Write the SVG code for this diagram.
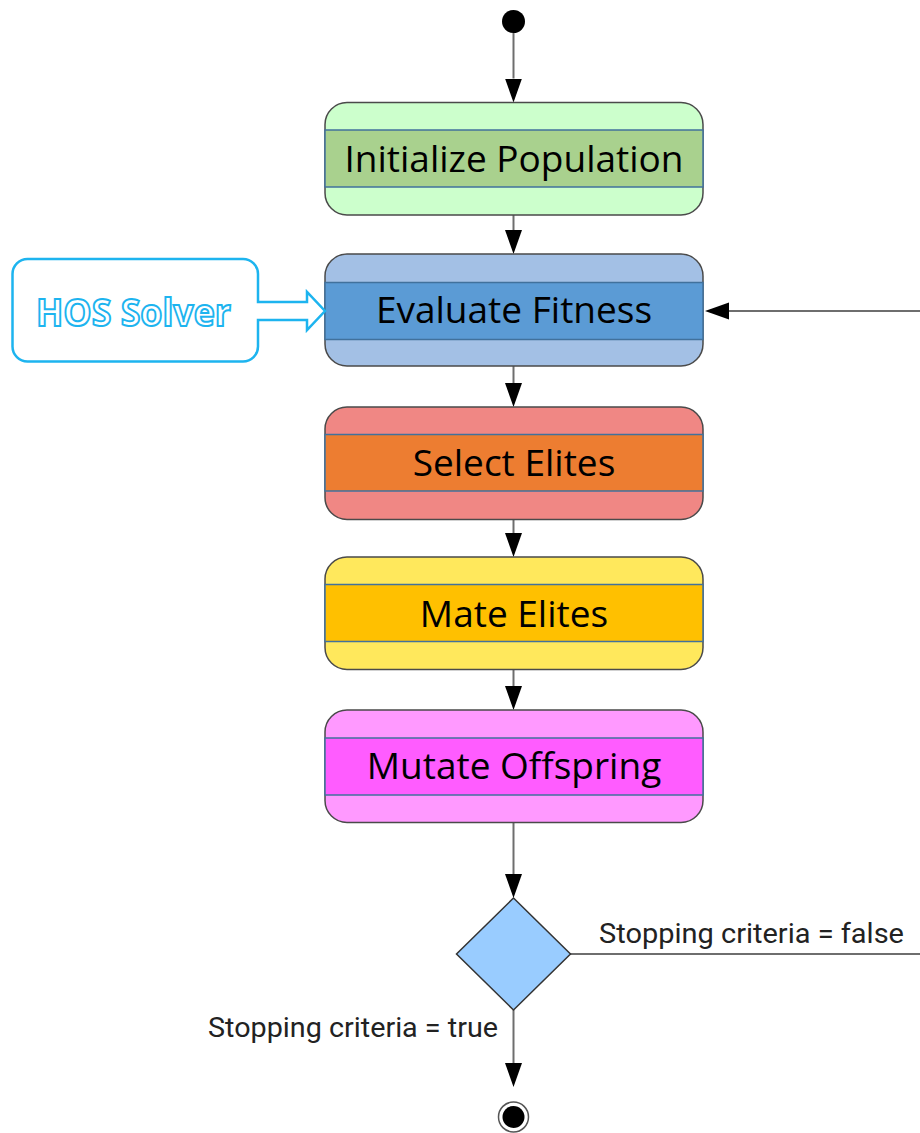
<svg xmlns="http://www.w3.org/2000/svg" width="920" height="1133" viewBox="0 0 920 1133">
<defs>
<style>
.outer{stroke:#4a4a4a;stroke-width:1.5}
.band{stroke:#41719c;stroke-width:1.5}
.lbl{font-family:"Open Sans","DejaVu Sans",sans-serif;font-size:37px;fill:#000;text-anchor:middle}
.edge{fill:none;stroke:#6e6e6e;stroke-width:2}
.cond{font-family:Roboto,"Liberation Sans",sans-serif;font-size:27px;fill:#222}
</style>
<marker id="ah" markerUnits="userSpaceOnUse" markerWidth="25" markerHeight="18" refX="0" refY="8.5" orient="auto">
<path d="M0,0 L24,8.5 L0,17 Z" fill="#000"/>
</marker>
</defs>
<rect width="920" height="1133" fill="#fff"/>
<g id="connectors">
<path class="edge" d="M513.5,33 V78.5" marker-end="url(#ah)"/>
<path class="edge" d="M513.5,215 V230" marker-end="url(#ah)"/>
<path class="edge" d="M513.5,366 V383" marker-end="url(#ah)"/>
<path class="edge" d="M513.5,519.5 V533" marker-end="url(#ah)"/>
<path class="edge" d="M513.5,669.5 V686" marker-end="url(#ah)"/>
<path class="edge" d="M513.5,822.5 V874" marker-end="url(#ah)"/>
<path class="edge" d="M513.5,1010 V1063" marker-end="url(#ah)"/>
<path class="edge" d="M570,954 H940 V311 H729" marker-end="url(#ah)"/>
<text class="cond" x="599" y="943" textLength="305" lengthAdjust="spacingAndGlyphs">Stopping criteria = false</text>
<text class="cond" x="208" y="1037" textLength="290" lengthAdjust="spacingAndGlyphs">Stopping criteria = true</text>
</g>
<g id="start"><circle cx="513.5" cy="21.5" r="11.5" fill="#000"/></g>
<g id="init">
<rect class="outer" x="325" y="102.5" width="378" height="112.5" rx="22" ry="22" fill="#ccffcc"/>
<rect class="band" x="325" y="130" width="378" height="57" fill="#a9d18e"/>
<text class="lbl" x="514" y="171.5">Initialize Population</text>
</g>
<g id="evaluate">
<rect class="outer" x="325" y="254" width="378" height="112" rx="22" ry="22" fill="#a3c0e5"/>
<rect class="band" x="325" y="282.5" width="378" height="57" fill="#5b9bd5"/>
<text class="lbl" x="514" y="323">Evaluate Fitness</text>
</g>
<g id="select">
<rect class="outer" x="325" y="407" width="378" height="112.5" rx="22" ry="22" fill="#f08784"/>
<rect class="band" x="325" y="434.5" width="378" height="56.5" fill="#ed7d31"/>
<text class="lbl" x="514" y="475.5">Select Elites</text>
</g>
<g id="mate">
<rect class="outer" x="325" y="557" width="378" height="112.5" rx="22" ry="22" fill="#ffe85c"/>
<rect class="band" x="325" y="584.5" width="378" height="57" fill="#ffc000"/>
<text class="lbl" x="514" y="626.5">Mate Elites</text>
</g>
<g id="mutate">
<rect class="outer" x="325" y="710" width="378" height="112.5" rx="22" ry="22" fill="#ff99ff"/>
<rect class="band" x="325" y="738" width="378" height="57" fill="#ff5cff"/>
<text class="lbl" x="514" y="779">Mutate Offspring</text>
</g>
<g id="decision"><polygon points="513.5,898 570.5,954 513.5,1010 456.5,954" fill="#99ccff" stroke="#333" stroke-width="1.5"/></g>
<g id="end">
<circle cx="513.5" cy="1117" r="15" fill="#fff" stroke="#555" stroke-width="1.5"/>
<circle cx="513.5" cy="1117" r="11" fill="#000"/>
</g>
<g id="hos">
<path d="M27.5,259 H243 A15,15 0 0 1 258,274 V302 H307 V292 L325,311 L307,330 V320 H258 V346.5 A15,15 0 0 1 243,361.5 H27.5 A15,15 0 0 1 12.5,346.5 V274 A15,15 0 0 1 27.5,259 Z" fill="#fff" stroke="#1db4ef" stroke-width="2.5" stroke-linejoin="miter"/>
<text x="133.5" y="326" text-anchor="middle" font-family="'Open Sans','DejaVu Sans',sans-serif" font-weight="bold" font-size="38" fill="#fff" stroke="#1db4ef" stroke-width="2" textLength="195" lengthAdjust="spacingAndGlyphs">HOS Solver</text>
</g>
</svg>
